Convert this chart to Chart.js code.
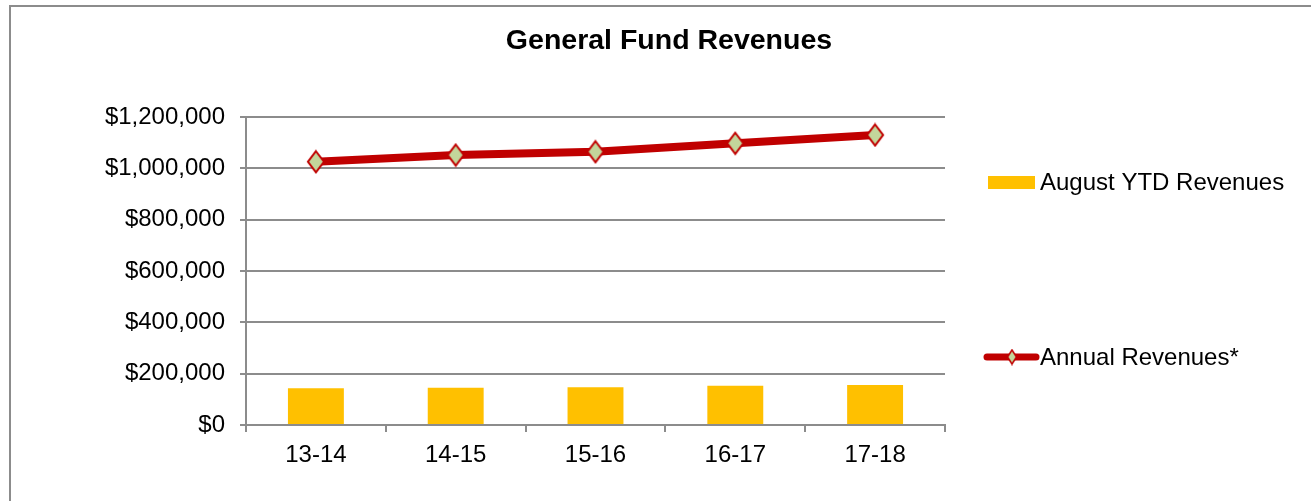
<!DOCTYPE html>
<html lang="en">
<head>
    <meta charset="UTF-8">
    <title>General Fund Revenues</title>
    <script src="https://cdn.jsdelivr.net/npm/chart.js"></script>
    <style>
        html, body { margin: 0; padding: 0; background: #ffffff; }
        #chart-wrap { width: 1311px; height: 501px; }
    </style>
</head>
<body>
    <div id="chart-wrap">
        <canvas id="revenueChart" width="1311" height="501"></canvas>
    </div>

    <script>
        // Chart data
        const years = ['13-14', '14-15', '15-16', '16-17', '17-18'];
        const augustYtd = [143000, 145300, 146900, 153100, 155800];
        const annualRevenues = [1025800, 1051900, 1064800, 1097500, 1129900];
        const yTicks = [0, 200000, 400000, 600000, 800000, 1000000, 1200000];

        const FONT = '"Liberation Sans", Arial, sans-serif';
        const GRID = '#8c8c8c';
        const BAR_COLOR = '#FFC000';
        const LINE_COLOR = '#C00000';
        const MARKER_FILL = '#C3D69B';

        // Excel-style diamond marker (taller than wide)
        function makeDiamond(w, h, lw) {
            const c = document.createElement('canvas');
            c.width = w;
            c.height = h;
            const g = c.getContext('2d');
            g.beginPath();
            g.moveTo(w / 2, lw);
            g.lineTo(w - lw, h / 2);
            g.lineTo(w / 2, h - lw);
            g.lineTo(lw, h / 2);
            g.closePath();
            g.fillStyle = MARKER_FILL;
            g.fill();
            g.lineWidth = lw;
            g.strokeStyle = LINE_COLOR;
            g.stroke();
            return c;
        }
        const diamond = makeDiamond(20, 25, 2);
        const smallDiamond = makeDiamond(12, 17, 1.5);

        // Title, frame and the legend drawn Excel-style
        const decorations = {
            id: 'decorations',
            beforeDraw(chart) {
                const ctx = chart.ctx;
                ctx.save();
                ctx.strokeStyle = GRID;
                ctx.lineWidth = 2;
                ctx.beginPath();
                ctx.moveTo(10, 501);
                ctx.lineTo(10, 6);
                ctx.lineTo(1311, 6);
                ctx.stroke();
                ctx.restore();
            },
            afterDraw(chart) {
                const ctx = chart.ctx;
                ctx.save();
                ctx.fillStyle = '#000000';
                ctx.font = 'bold 28.5px ' + FONT;
                ctx.textAlign = 'center';
                ctx.textBaseline = 'alphabetic';
                ctx.fillText('General Fund Revenues', 669, 49);

                ctx.font = '24px ' + FONT;
                ctx.textAlign = 'left';
                ctx.textBaseline = 'middle';

                // bar series
                ctx.fillStyle = BAR_COLOR;
                ctx.fillRect(988, 176, 47, 13);
                ctx.fillStyle = '#000000';
                ctx.fillText(chart.data.datasets[1].label, 1040, 183);

                // line series
                ctx.strokeStyle = LINE_COLOR;
                ctx.lineWidth = 7;
                ctx.lineCap = 'round';
                ctx.beginPath();
                ctx.moveTo(987, 357);
                ctx.lineTo(1036, 357);
                ctx.stroke();
                ctx.drawImage(smallDiamond, 1012 - 6, 357 - 8.5);
                ctx.fillStyle = '#000000';
                ctx.fillText(chart.data.datasets[0].label, 1040, 358);
                ctx.restore();
            }
        };

        const ctx = document.getElementById('revenueChart').getContext('2d');
        const revenueChart = new Chart(ctx, {
            type: 'bar',
            data: {
                labels: years,
                datasets: [{
                    type: 'line',
                    label: 'Annual Revenues*',
                    data: annualRevenues,
                    borderColor: LINE_COLOR,
                    borderWidth: 8,
                    pointStyle: diamond,
                    pointRadius: 12,
                    tension: 0,
                    order: 0
                }, {
                    type: 'bar',
                    label: 'August YTD Revenues',
                    data: augustYtd,
                    backgroundColor: BAR_COLOR,
                    borderWidth: 0,
                    barPercentage: 0.4,
                    categoryPercentage: 1,
                    order: 1
                }]
            },
            options: {
                responsive: false,
                animation: false,
                devicePixelRatio: 1,
                layout: {
                    padding: { left: 0, top: 117, right: 366, bottom: 0 }
                },
                plugins: {
                    legend: { display: false },
                    title: { display: false },
                    tooltip: { enabled: false }
                },
                scales: {
                    x: {
                        afterFit: (scale) => { scale.height = 76; },
                        grid: {
                            offset: true,
                            drawOnChartArea: false,
                            drawTicks: true,
                            tickLength: 7,
                            color: GRID,
                            lineWidth: 2
                        },
                        border: { display: true, color: GRID, width: 2 },
                        ticks: {
                            color: '#000000',
                            font: { family: FONT, size: 24 },
                            padding: 9
                        }
                    },
                    y: {
                        min: 0,
                        max: 1200000,
                        afterFit: (scale) => { scale.width = 246; },
                        afterBuildTicks: (scale) => {
                            scale.ticks = yTicks.map(v => ({ value: v }));
                        },
                        grid: {
                            color: GRID,
                            lineWidth: 2,
                            tickLength: 6
                        },
                        border: { display: true, color: GRID, width: 2 },
                        ticks: {
                            color: '#000000',
                            font: { family: FONT, size: 24 },
                            padding: 15,
                            callback: (v) => '$' + Number(v).toLocaleString('en-US')
                        }
                    }
                }
            },
            plugins: [decorations]
        });
    </script>
</body>
</html>
